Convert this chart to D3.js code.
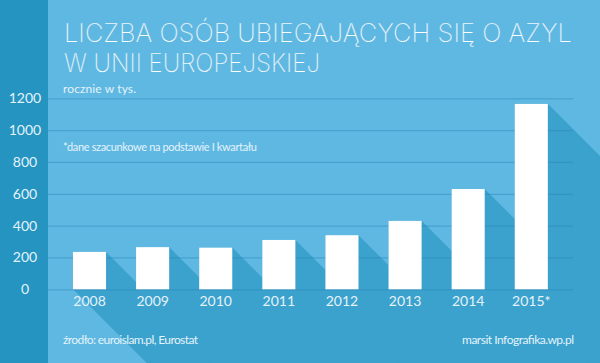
<!DOCTYPE html>
<html>
<head>
<meta charset="utf-8">
<script src="https://cdn.jsdelivr.net/npm/d3@7"></script>
<style>
  body { margin: 0; padding: 0; background: #5fb8e2; }
  svg { display: block; }
  .axis-label { font-family: Lato, sans-serif; font-size: 14px; fill: #e4f3fa; }
  .title { font-family: Inter, sans-serif; font-weight: 200; font-size: 25.5px; fill: #ffffff;
           stroke: #5fb8e2; stroke-width: 0.25px; paint-order: fill; }
  .note { font-family: Lato, sans-serif; font-size: 12px; fill: #e4f3fa; }
</style>
</head>
<body>
<svg id="chart" width="600" height="363"></svg>
<script>
const svg = d3.select('#chart');
const width = +svg.attr('width');
const height = +svg.attr('height');

// data (tys. wniosków)
const years = ['2008', '2009', '2010', '2011', '2012', '2013', '2014', '2015*'];
const values = [235, 265, 262, 310, 340, 430, 630, 1165];
const yTicks = [0, 200, 400, 600, 800, 1000, 1200];

const titleLines = ['LICZBA OSÓB UBIEGAJĄCYCH SIĘ O AZYL', 'W UNII EUROPEJSKIEJ'];
const subtitle = 'rocznie w tys.';
const footnote = '*dane szacunkowe na podstawie I kwartału';
const source = 'źrodło: euroislam.pl, Eurostat';
const credit = 'marsit Infografika.wp.pl';

const stripWidth = 48;
const gridRight = 573;

const xScale = d3.scaleBand()
	.domain(years)
	.range([57.2, 563.6])
	.paddingInner(0.476)
	.paddingOuter(0.25);

const yScale = d3.scaleLinear()
	.domain([0, 1200])
	.range([289.3, 98.3]);

// background
svg.append('rect')
	.attr('width', width)
	.attr('height', height)
	.attr('fill', '#5fb8e2');

// long shadows of bars, 45 degrees down-right
const L = 500;
const shadowG = svg.append('g').attr('class', 'shadows');
shadowG.selectAll('path').data(years)
	.enter().append('path')
		.attr('d', (d, i) => {
			const x0 = xScale(d);
			const x1 = x0 + xScale.bandwidth();
			const yt = yScale(values[i]);
			const yb = yScale(0);
			return `M${x0},${yt}L${x1},${yt}L${x1 + L},${yt + L}L${x0 + L},${yb + L}L${x0},${yb}Z`;
		})
		.attr('fill', '#3ba1cd');

// gridlines
const yAxis = d3.axisLeft(yScale)
	.tickValues(yTicks)
	.tickSize(-(gridRight - stripWidth))
	.tickFormat('');
const gridG = svg.append('g')
	.attr('transform', `translate(${stripWidth},0)`)
	.call(yAxis);
gridG.select('.domain').remove();
gridG.selectAll('.tick line')
	.attr('stroke', '#2a86b8')
	.attr('stroke-opacity', 0.45)
	.attr('stroke-width', 1.2);

// bars
svg.append('g').selectAll('rect').data(years)
	.enter().append('rect')
		.attr('x', d => xScale(d))
		.attr('y', (d, i) => yScale(values[i]))
		.attr('width', xScale.bandwidth())
		.attr('height', (d, i) => yScale(0) - yScale(values[i]))
		.attr('fill', '#ffffff');

// left strip with y labels
svg.append('rect')
	.attr('width', stripWidth)
	.attr('height', height)
	.attr('fill', '#2594c1');

svg.append('g').selectAll('text').data(yTicks)
	.enter().append('text')
		.attr('class', 'axis-label')
		.attr('x', 25)
		.attr('y', d => yScale(d))
		.attr('dy', '0.35em')
		.attr('text-anchor', 'middle')
		.text(d => d);

// x labels
const xAxis = d3.axisBottom(xScale).tickSize(0).tickPadding(0);
const xAxisG = svg.append('g')
	.attr('transform', `translate(0,${yScale(0)})`)
	.call(xAxis);
xAxisG.select('.domain').remove();
xAxisG.selectAll('text')
	.attr('class', 'axis-label')
	.attr('y', 16.5)
	.attr('dy', 0);

// titles
svg.append('g').selectAll('text').data(titleLines)
	.enter().append('text')
		.attr('class', 'title')
		.attr('x', 64)
		.attr('y', (d, i) => 42 + i * 29.5)
		.attr('textLength', (d, i) => i === 0 ? 508 : 256)
		.attr('lengthAdjust', 'spacingAndGlyphs')
		.text(d => d);

svg.append('text')
	.attr('class', 'note')
	.attr('x', 63)
	.attr('y', 93)
	.attr('textLength', 73)
	.text(subtitle);

svg.append('text')
	.attr('class', 'note')
	.style('font-size', '11px')
	.attr('x', 63)
	.attr('y', 151)
	.attr('textLength', 194)
	.text(footnote);

svg.append('text')
	.attr('class', 'note')
	.attr('x', 63)
	.attr('y', 344)
	.attr('textLength', 135)
	.text(source);

svg.append('text')
	.attr('class', 'note')
	.attr('x', 574)
	.attr('y', 344)
	.attr('text-anchor', 'end')
	.attr('textLength', 112)
	.text(credit);
</script>
</body>
</html>
